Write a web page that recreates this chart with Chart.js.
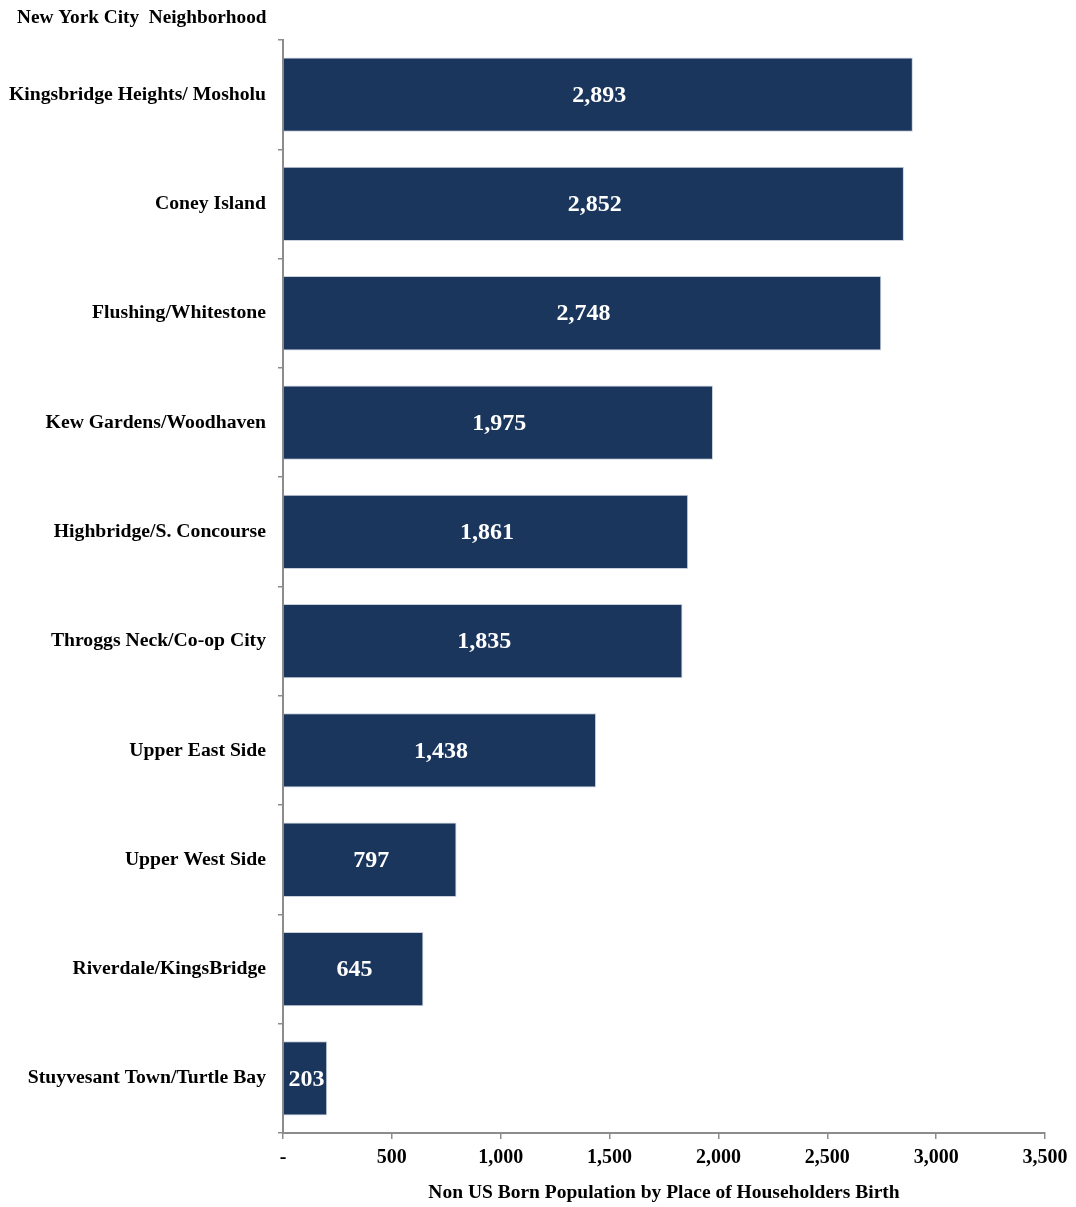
<!DOCTYPE html>
<html>
<head>
<meta charset="utf-8">
<script src="https://cdn.jsdelivr.net/npm/chart.js@4.4.1/dist/chart.umd.min.js"></script>
<style>
	html, body { margin: 0; padding: 0; background: #fff; }
	#wrap { width: 1076px; height: 1207px; }
</style>
</head>
<body>
<div id="wrap"><canvas id="nyc_chart"></canvas></div>
<script>
// neighborhoods, top to bottom
var neighborhoods = [
	"Kingsbridge Heights/ Mosholu",
	"Coney Island",
	"Flushing/Whitestone",
	"Kew Gardens/Woodhaven",
	"Highbridge/S. Concourse",
	"Throggs Neck/Co-op City",
	"Upper East Side",
	"Upper West Side",
	"Riverdale/KingsBridge",
	"Stuyvesant Town/Turtle Bay"
];
var non_us_born = [2893, 2852, 2748, 1975, 1861, 1835, 1438, 797, 645, 203];
var x_ticks = [0, 500, 1000, 1500, 2000, 2500, 3000, 3500];
var y_title = "New York City  Neighborhood";

var serif = "'Liberation Serif', 'DejaVu Serif', serif";
var axis_gray = "#8c8c8c";

function fmt(v){
	return v === 0 ? "-" : v.toLocaleString("en-US");
}

// white value labels in the middle of each bar, plus the category heading top left
var bar_labels = {
	id: "barLabels",
	afterDatasetsDraw: function(chart){
		var ctx = chart.ctx;
		var meta = chart.getDatasetMeta(0);
		ctx.save();
		ctx.fillStyle = "#ffffff";
		ctx.font = "bold 24px " + serif;
		ctx.textAlign = "center";
		ctx.textBaseline = "middle";
		meta.data.forEach(function(bar, i){
			ctx.fillText(fmt(non_us_born[i]), (bar.x + bar.base) / 2 + 1, bar.y + 1);
		});

		ctx.fillStyle = "#000000";
		ctx.font = "bold 19.3px " + serif;
		ctx.textAlign = "left";
		ctx.fillText(y_title, 17, 18);
		ctx.restore();
	}
};

var nyc_chart = new Chart(document.getElementById("nyc_chart"), {
	type: "bar",
	data: {
		labels: neighborhoods,
		datasets: [{
			label: "Non US Born Population",
			data: non_us_born,
			backgroundColor: "#1a365d",
			borderColor: "#c9d1dc",
			borderWidth: 1,
			categoryPercentage: 1,
			barPercentage: 0.68
		}]
	},
	options: {
		indexAxis: "y",
		responsive: true,
		maintainAspectRatio: false,
		animation: false,
		layout: { padding: { top: 40, left: 9, right: 31, bottom: 0 } },
		plugins: {
			legend: { display: false },
			tooltip: { enabled: false }
		},
		scales: {
			x: {
				min: 0,
				max: 3500,
				afterBuildTicks: function(scale){
					scale.ticks = x_ticks.map(function(v){ return { value: v }; });
				},
				border: { color: axis_gray, width: 2 },
				grid: { drawOnChartArea: false, color: axis_gray, tickLength: 6, lineWidth: 1.5 },
				ticks: {
					color: "#000",
					padding: 7,
					font: { family: serif, size: 20, weight: "bold" },
					callback: function(v){ return fmt(v); }
				},
				title: {
					display: true,
					text: "Non US Born Population by Place of Householders Birth",
					color: "#000",
					font: { family: serif, size: 19.5, weight: "bold" },
					padding: { top: 14, bottom: 2 }
				},
				afterFit: function(scale){ scale.height = 74; }
			},
			y: {
				border: { color: axis_gray, width: 2 },
				grid: { drawOnChartArea: false, color: axis_gray, tickLength: 5, lineWidth: 1.5, offset: true },
				ticks: {
					color: "#000",
					padding: 12,
					font: { family: serif, size: 19.7, weight: "bold" }
				},
				afterFit: function(scale){ scale.width = 274; }
			}
		}
	},
	plugins: [bar_labels]
});
</script>
</body>
</html>
